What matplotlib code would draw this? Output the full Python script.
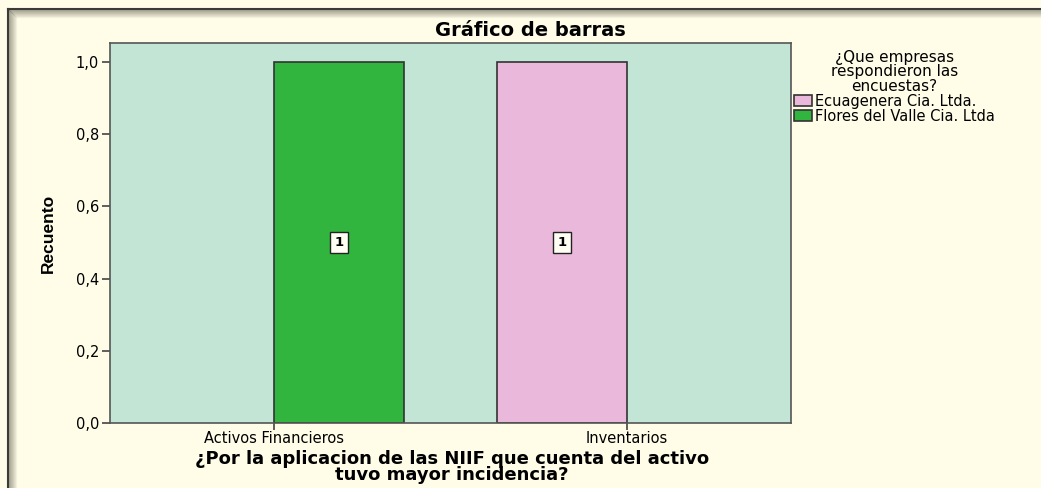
import matplotlib.pyplot as plt
from matplotlib.lines import Line2D
import numpy as np

categories = ["Activos Financieros", "Inventarios"]
companies = ["Ecuagenera Cia. Ltda.", "Flores del Valle Cia. Ltda"]
ecuagenera = [0, 1]
flores = [1, 0]
yticks = [0.0, 0.2, 0.4, 0.6, 0.8, 1.0]

colors = {"Ecuagenera Cia. Ltda.": "#eab8da", "Flores del Valle Cia. Ltda": "#31b53f"}
bg = "#fffde8"

plt.rcParams["font.family"] = ["DejaVu Sans"]

W, H = 1041, 488
fig = plt.figure(figsize=(W / 100, H / 100), dpi=100, facecolor=bg)

# outer frame with shadow (top and left edges visible)
for i in range(9):
    a = 0.55 * (1 - i / 9)
    fig.add_artist(Line2D([(8 + i) / W, 1], [1 - (9 + i) / H] * 2,
                          transform=fig.transFigure, color="#6b6b5a", alpha=a, lw=1))
    fig.add_artist(Line2D([(8 + i) / W] * 2, [0, 1 - (9 + i) / H],
                          transform=fig.transFigure, color="#6b6b5a", alpha=a, lw=1))
fig.add_artist(Line2D([8 / W, 1], [1 - 9 / H] * 2, transform=fig.transFigure,
                      color="#3a3a3a", lw=1.5))
fig.add_artist(Line2D([8 / W] * 2, [0, 1 - 9 / H], transform=fig.transFigure,
                      color="#3a3a3a", lw=1.5))

ax = fig.add_axes([110 / W, 65 / H, 681 / W, 380 / H])
ax.set_facecolor("#c3e5d5")

x = np.arange(len(categories))
width = 0.368
series = [(companies[0], ecuagenera, -width / 2), (companies[1], flores, width / 2)]
for name, vals, off in series:
    lws = [1.2 if v > 0 else 0 for v in vals]
    bars = ax.bar(x + off, vals, width, color=colors[name], edgecolor="#333333",
                  linewidth=lws, label=name)
    for b, v in zip(bars, vals):
        if v > 0:
            ax.text(b.get_x() + b.get_width() / 2, v / 2, str(v), ha="center",
                    va="center", fontsize=9.5, fontweight="bold",
                    bbox=dict(boxstyle="square,pad=0.3", fc="#fffff4", ec="#222222", lw=1))

ax.set_xlim(-0.465, 1.465)
ax.set_ylim(0, 1.053)
ax.set_xticks(x)
ax.set_xticklabels(categories, fontsize=10.5)
ax.set_yticks(yticks)
ax.set_yticklabels([f"{t:.1f}".replace(".", ",") for t in yticks], fontsize=10.5)
ax.tick_params(axis="y", length=6, width=1.2, color="#444444", pad=2)
ax.tick_params(axis="x", length=5, width=1.2, color="#444444", pad=0.5)
for s in ax.spines.values():
    s.set_color("#555555")
    s.set_linewidth(1.2)

fig.text(530 / W, 1 - 31 / H, "Gráfico de barras", fontsize=14, fontweight="bold",
         ha="center", va="center")
ax.set_ylabel("Recuento", fontsize=12.5, fontweight="bold",
              family=["Liberation Sans Narrow", "Liberation Sans", "DejaVu Sans"])
ax.yaxis.set_label_coords(-0.08, 0.5)
fig.text(452 / W, 1 - 467 / H,
         "¿Por la aplicacion de las NIIF que cuenta del activo\ntuvo mayor incidencia?",
         fontsize=13, fontweight="bold", ha="center", va="center", linespacing=0.9)

leg = fig.legend(loc="upper left", bbox_to_anchor=(791 / W, 1 - 47 / H),
                 title="¿Que empresas\nrespondieron las\nencuestas?",
                 fontsize=10.5, title_fontsize=11, frameon=False,
                 handlelength=1.25, handleheight=0.75, handletextpad=0.2,
                 labelspacing=0.0, borderpad=0.2, borderaxespad=0)
leg._legend_box.align = "center"
leg.get_title().set_multialignment("center")
leg.get_title().set_linespacing(0.95)
for h in leg.legend_handles:
    h.set_edgecolor("#333333")
    h.set_linewidth(1.2)

fig.savefig("out.png", dpi=100, facecolor=bg)
